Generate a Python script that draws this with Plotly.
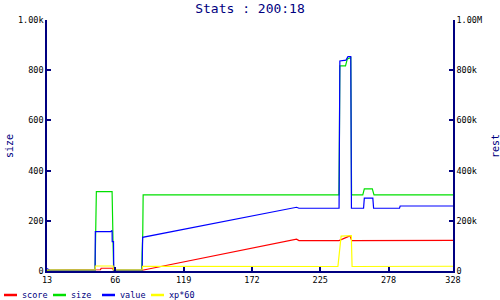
import plotly.graph_objects as go

# ---- data ----
x_ticks = [13, 66, 119, 172, 225, 278, 328]
left_tick_vals = [0, 200, 400, 600, 800, 1000]
left_tick_text = ["0", "200", "400", "600", "800", "1.00k"]
right_tick_vals = [0, 200000, 400000, 600000, 800000, 1000000]
right_tick_text = ["0", "200k", "400k", "600k", "800k", "1.00M"]

score_x = [13, 50.5, 51, 54.5, 55, 64, 64.5, 87.0, 206.6, 208.5, 239.5, 248.0, 249.5, 328]
score_y = [3, 3, 5, 5, 11, 11, 3, 3, 127, 121, 121, 140, 121, 122]

size_x = [13, 50.3, 50.6, 51.3, 63.5, 63.6, 64.3, 64.7, 86.6, 86.8, 87.3, 87.6,
          239.5, 239.9, 240.2, 244.6, 246.0, 248.7, 249.3, 258.0, 259.2, 265.4, 266.7, 328]
size_y = [3, 3, 100, 316, 316, 237, 100, 3, 3, 72, 150, 303,
          303, 550, 817, 817, 845, 850, 303, 303, 327, 327, 303, 303]

value_x = [13, 15, 50.3, 50.5, 62.5, 63.0, 63.5, 63.6, 64.6, 64.8, 86.8, 87.2, 206.6, 208.5,
           239.6, 240.2, 245.0, 246.5, 248.7, 249.2, 258.6, 259.2, 265.8, 266.4, 286.5, 287.0, 328]
value_y = [10, 3, 3, 157, 157, 161, 161, 117, 117, 3, 3, 134, 254, 250,
           250, 837, 840, 854, 854, 250, 250, 290, 290, 250, 250, 259, 259]

xp_x = [13, 50.3, 50.5, 64.3, 64.5, 86.8, 87.2, 238.7, 241.2, 248.3, 249.1, 249.7, 328]
xp_y = [4, 4, 20, 20, 4, 4, 19, 18, 139, 139, 141, 18, 19]

series = [
    ("score", score_x, score_y, "#ff0000"),
    ("size", size_x, size_y, "#00e000"),
    ("value", value_x, value_y, "#0000ff"),
    ("xp*60", xp_x, xp_y, "#ffff00"),
]

NAVY = "#000080"
FONT = "DejaVu Sans Mono"
W, H = 500, 300
ML, MR, MT, MB = 47, 47, 20, 29
PW, PH = W - ML - MR, H - MT - MB


def px2paper(px, py):
    return (px - ML) / PW, (H - MB - py) / PH


fig = go.Figure()
for name, xs, ys, color in series:
    fig.add_trace(go.Scatter(x=xs, y=ys, mode="lines", name=name,
                             line=dict(color=color, width=1.2),
                             showlegend=False, hoverinfo="skip"))
# empty trace so the right axis is drawn
fig.add_trace(go.Scatter(x=[], y=[], yaxis="y2", showlegend=False, hoverinfo="skip"))

shapes = []
annotations = []
# manual legend
leg_line_px = [(4, 17), (53, 66), (102, 115), (151, 164)]
leg_text_px = [20, 69, 118, 167]
leg_y = 295
for (name, _, _, color), (a, b), tx in zip(series, leg_line_px, leg_text_px):
    x0, y0 = px2paper(a, leg_y)
    x1, _ = px2paper(b, leg_y)
    shapes.append(dict(type="line", xref="paper", yref="paper", x0=x0, x1=x1, y0=y0, y1=y0,
                       line=dict(color=color, width=2.5)))
    ax, ay = px2paper(tx, leg_y)
    annotations.append(dict(text=name, xref="paper", yref="paper", x=ax, y=ay,
                            xanchor="left", yanchor="middle", showarrow=False,
                            font=dict(family=FONT, size=8.5, color=NAVY)))

# axis titles
for txt, px in (("size", 9), ("rest", 495)):
    ax, ay = px2paper(px, 146)
    annotations.append(dict(text=txt, xref="paper", yref="paper", x=ax, y=ay,
                            xanchor="center", yanchor="middle", showarrow=False,
                            textangle=-90, font=dict(family=FONT, size=10, color=NAVY)))

fig.update_layout(
    width=W, height=H,
    margin=dict(l=ML, r=MR, t=MT, b=MB),
    paper_bgcolor="white", plot_bgcolor="white",
    title=dict(text="Stats : 200:18", x=0.5, xref="container", xanchor="center",
               y=1 - 8 / H, yref="container", yanchor="middle",
               font=dict(family=FONT, size=13, color=NAVY)),
    xaxis=dict(range=[13, 328], tickvals=x_ticks, ticktext=[str(v) for v in x_ticks],
               showline=True, linecolor=NAVY, linewidth=2, ticks="inside", ticklen=4,
               tickcolor=NAVY, tickwidth=1.5, showgrid=False, zeroline=False,
               tickfont=dict(family=FONT, size=8.5, color="black")),
    yaxis=dict(range=[0, 1000], tickvals=left_tick_vals, ticktext=left_tick_text,
               showline=True, linecolor=NAVY, linewidth=1.5, ticks="inside", ticklen=4,
               tickcolor=NAVY, tickwidth=1.5, showgrid=False, zeroline=False,
               tickfont=dict(family=FONT, size=8.5, color="black")),
    yaxis2=dict(range=[0, 1000000], tickvals=right_tick_vals, ticktext=right_tick_text,
                overlaying="y", side="right",
                showline=True, linecolor=NAVY, linewidth=1.5, ticks="inside", ticklen=4,
                tickcolor=NAVY, tickwidth=1.5, showgrid=False, zeroline=False,
                tickfont=dict(family=FONT, size=8.5, color="black")),
    shapes=shapes, annotations=annotations, showlegend=False,
)

fig.write_html("out.html")
